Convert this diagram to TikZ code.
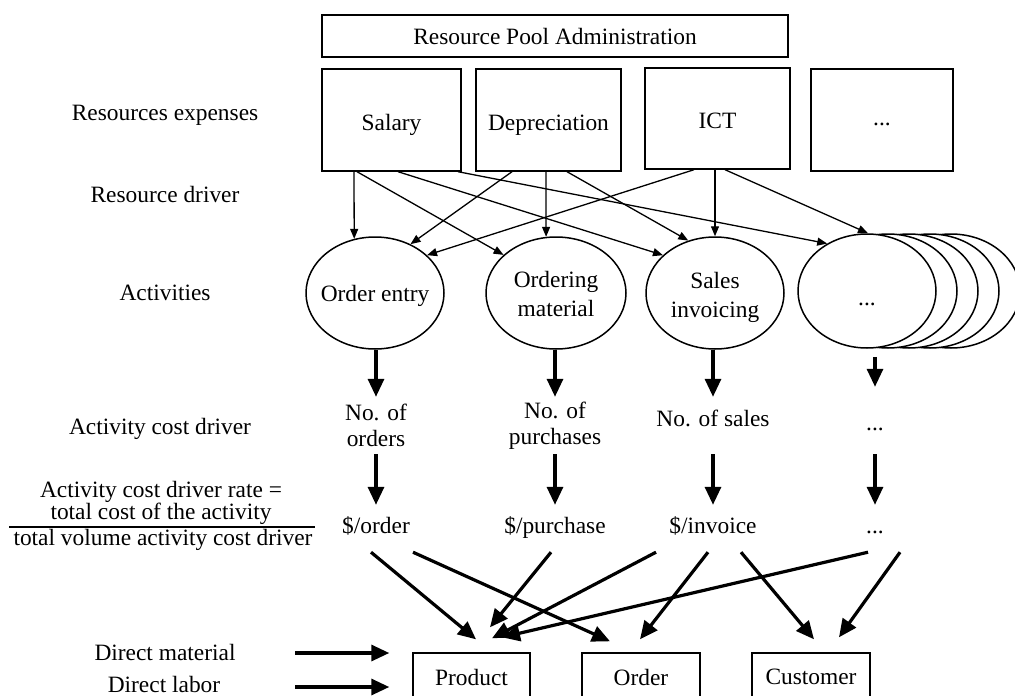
\documentclass[tikz,border=0pt]{standalone}
\usepackage{fontspec}
\setmainfont{Liberation Serif}
\usetikzlibrary{shapes.geometric,arrows.meta}
\begin{document}
\begin{tikzpicture}[x=1pt,y=-1pt,
  every node/.style={font=\fontsize{23.4pt}{26pt}\selectfont, inner sep=0pt},
  box/.style={draw, line width=1.4pt},
  resbox/.style={box, text height=20pt, text depth=0pt},
  act/.style={draw, ellipse, line width=1.5pt, fill=white, minimum width=138pt, minimum height=112pt},
  lbl/.style={align=center, font=\fontsize{23.4pt}{29pt}\selectfont},
  slot/.style={align=center, minimum height=57pt},
  rate/.style={minimum height=47pt, text height=17pt, text depth=8pt},
  rdarrow/.style={line width=1.3pt, -{Triangle[length=10pt,width=8pt]}},
  bigarrow/.style={line width=3.2pt, -{Triangle[length=18pt,width=16pt]}},
  stackline/.style={line width=1.5pt, fill=white}]
\useasboundingbox (0,0) rectangle (1015,696);
\clip (0,0) rectangle (1015,696);

% row labels on the left
\node (lre)  at (165,115) {Resources expenses};
\node (lrd)  at (165,194) {Resource driver};
\node (lact) at (165,293) {Activities};
\node (lacd) at (160,429) {Activity cost driver};
\node[align=center, font=\fontsize{23.4pt}{21pt}\selectfont] (lra) at (161,503) {Activity cost driver rate =\\total cost of the activity};
\node (lrc)  at (163,540) {total volume activity cost driver};
\draw[line width=1.3pt] (9,527) -- (315,527);
\node (dm) at (165,652) {Direct material};
\node (dl) at (164,684) {Direct labor};

% resources
\node[box, minimum width=466pt, minimum height=42pt] (rpa) at (555,36) {Resource Pool Administration};
\node[resbox, minimum width=139pt, minimum height=102pt] (sal) at (391.5,120) {Salary};
\node[resbox, minimum width=145pt, minimum height=102pt] (dep) at (548.5,120) {Depreciation};
\node[resbox, minimum width=145pt, minimum height=101pt] (ict) at (717.5,118.5) {ICT};
\node[box, text height=10pt, text depth=0pt, minimum width=142pt, minimum height=102pt] (res) at (882,120) {...};

% activities (the last one stacked)
\foreach \k in {4,3,2,1}
  \draw[stackline] ({867+21*\k},291) ellipse [x radius=69, y radius=57];
\node[act, minimum height=114pt, text height=28pt, text depth=0pt] (de) at (867,291) {...};
\node[act] (oe) at (375,293) {};
\node[act, minimum width=140pt] (om) at (556,293) {};
\node[act] (si) at (715,293) {};
\node[lbl] at ([yshift=-3pt]oe.center) {Order entry};
\node[lbl] at ([yshift=-1pt]om.center) {Ordering\\material};
\node[lbl] at ([yshift=-4pt]si.center) {Sales\\invoicing};

% resource drivers
\draw[rdarrow] ([xshift=-37.5pt]sal.south) -- (oe.111.5);
\draw[rdarrow] ([xshift=-34.5pt]sal.south) -- (om.144.7);
\draw[rdarrow] ([xshift=6.5pt]sal.south) -- (si.144.7);
\draw[rdarrow] ([xshift=66.5pt]sal.south) -- (de.130);
\draw[rdarrow] ([xshift=-36.5pt]dep.south) -- (oe.54.8);
\draw[rdarrow] ([xshift=-2.5pt]dep.south) -- (om.100.2);
\draw[rdarrow] ([xshift=18.5pt]dep.south) -- (si.117);
\draw[rdarrow] ([xshift=-23.5pt]ict.south) -- (oe.36.7);
\draw[rdarrow] ([xshift=-2.5pt]ict.south) -- (si.90);
\draw[rdarrow] ([xshift=7.5pt]ict.south) -- (de.89);

% activity cost drivers and rates
\node[slot] (d1) at (376,425.5) {No. of\\orders};
\node[slot] (d2) at (555,425.5) {No. of\\purchases};
\node[slot, text depth=15pt] (d3) at (713,425.5) {No. of sales};
\node[slot, text height=10pt, text depth=0pt] (d4) at (875,425.5) {...};
\node[rate] (r1) at (376,528.5) {\$/order};
\node[rate] (r2) at (555,528.5) {\$/purchase};
\node[rate] (r3) at (713,528.5) {\$/invoice};
\node[rate] (r4) at (875,528.5) {...};

\draw[bigarrow] (d1.north |- oe.south) -- (d1.north);
\draw[bigarrow] (d2.north |- om.south) -- (d2.north);
\draw[bigarrow] (d3.north |- si.south) -- (d3.north);
\draw[bigarrow, shorten <=8pt, shorten >=10pt] (d4.north |- de.south) -- (d4.north);
\draw[bigarrow] (d1.south) -- (r1.north);
\draw[bigarrow] (d2.south) -- (r2.north);
\draw[bigarrow] (d3.south) -- (r3.north);
\draw[bigarrow] (d4.south) -- (r4.north);

% cost objects
\node[box, minimum width=117pt, minimum height=48pt] (prod) at (471.5,677) {Product};
\node[box, minimum width=118pt, minimum height=48pt] (ord)  at (641,677) {Order};
\node[box, minimum width=118pt, minimum height=48pt] (cust) at (811,677) {Customer};

\draw[bigarrow] ([xshift=-5pt]r1.south) -- ([xshift=4.5pt,yshift=13pt]prod.north);
\draw[bigarrow] ([xshift=37pt]r1.south) -- ([xshift=-31pt,yshift=11pt]ord.north);
\draw[bigarrow] ([xshift=-4pt]r2.south) -- ([xshift=18.5pt,yshift=25pt]prod.north);
\draw[bigarrow] ([xshift=-57pt]r3.south) -- ([xshift=20.5pt,yshift=14pt]prod.north);
\draw[bigarrow] ([xshift=-5pt]r3.south) -- ([xshift=-1pt,yshift=13pt]ord.north);
\draw[bigarrow] ([xshift=28pt]r3.south) -- ([xshift=3pt,yshift=13pt]cust.north);
\draw[bigarrow] ([xshift=-7pt]r4.south) -- ([xshift=30.5pt,yshift=15pt]prod.north);
\draw[bigarrow] ([xshift=25pt]r4.south) -- ([xshift=28pt,yshift=15pt]cust.north);

% direct costs
\coordinate (dms) at (295,653);
\coordinate (dls) at (295,687);
\draw[bigarrow, shorten >=23pt] (dms) -- (dms -| prod.west);
\draw[bigarrow, shorten >=23pt] (dls) -- (dls -| prod.west);
\end{tikzpicture}
\end{document}
